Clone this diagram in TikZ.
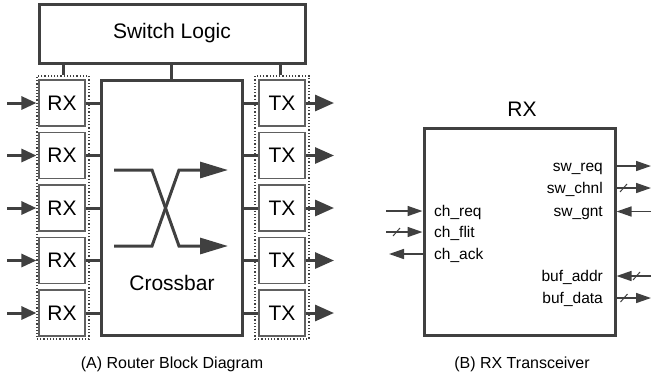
\documentclass[tikz,border=0pt]{standalone}
\usepackage{fontspec}
\setmainfont{Liberation Sans}
\usetikzlibrary{arrows.meta,positioning}

\definecolor{linec}{RGB}{64,64,64}
\definecolor{portc}{RGB}{96,96,96}

\tikzset{slash/.pic={\draw[line width=1pt,linec] (-3.5pt,-4pt) -- (3.5pt,4pt);}}

\begin{document}
\begin{tikzpicture}[
  x=1pt,y=-1pt,
  big/.style={font=\fontsize{21}{24}\selectfont},
  box/.style={draw=linec,line width=3pt,inner sep=0pt,big},
  port/.style={draw=portc,line width=1.5pt,minimum width=46pt,
    minimum height=46pt,inner sep=0pt,big},
  group/.style={draw=linec,dotted,line width=1.2pt,inner sep=0pt},
  bus/.style={draw=linec,line width=3pt},
  pin/.style={draw=linec,line width=1.5pt},
  in tip/.style={-{Triangle[length=15pt,width=13pt]}},
  out tip/.style={-{Triangle[length=19pt,width=16pt]}},
  x tip/.style={-{Triangle[length=28pt,width=16pt]}},
  pin tip/.style={-{Triangle[length=15pt,width=10pt]}},
  lab/.style={font=\fontsize{15.5}{18}\selectfont,inner sep=0pt},
  caption/.style={font=\fontsize{16}{19}\selectfont}]

  \useasboundingbox (0,0) rectangle (652,376);

  % (A) router
  \node[box,minimum width=266pt,minimum height=59pt] (sw) at (172,33.5)
    {Switch Logic};
  \node[box,minimum width=141pt,minimum height=255pt] (xbar) at (171.5,207.5) {};
  \node[big] (xlab) at (172,283) {Crossbar};

  \node[group,minimum width=52pt,minimum height=263pt] (grpL) at (63,207.5) {};
  \node[group,minimum width=54pt,minimum height=263pt] (grpR) at (282,207.5) {};

  \foreach \i in {1,...,5} {
    \pgfmathsetmacro{\yy}{103+52.5*(\i-1)}
    \node[port] (rx\i) at (62,\yy) {RX};
    \node[port] (tx\i) at (282,\yy) {TX};
    \coordinate (in\i) at (7,\yy);
    \coordinate (out\i) at (334,\yy);
    \draw[bus,in tip] (in\i) -- (grpL.west |- in\i);
    \draw[bus] (rx\i.east) -- (rx\i.east -| xbar.west);
    \draw[bus] (tx\i.west -| xbar.east) -- (tx\i.west);
    \draw[bus,out tip] (tx\i.east) -- (out\i);
  }

  % switch logic taps
  \draw[bus] (sw.south -| grpL.north) -- (grpL.north);
  \draw[bus] (sw.south -| xbar.north) -- (xbar.north);
  \draw[bus] (sw.south -| 280,0) -- (grpR.north -| 280,0);

  % crossing inside the crossbar
  \draw[bus,x tip] (114,170) -- (152,170) -- (179,246) -- (228,246);
  \draw[bus,x tip] (114,246) -- (152,246) -- (179,170) -- (228,170);

  \node[caption] (capA) at (172,364) {(A) Router Block Diagram};

  % (B) RX transceiver
  \node[box,minimum width=191pt,minimum height=207pt] (rxbig) at (519.5,231.5) {};
  \node[big] (rxtitle) at (522,109.5) {RX};

  \coordinate (swreq) at (651,166);
  \coordinate (swchnl) at (651,188);
  \coordinate (swgnt) at (651,211.5);
  \coordinate (bufaddr) at (651,276);
  \coordinate (bufdata) at (651,298);
  \coordinate (chreq) at (386,211);
  \coordinate (chflit) at (386,232);
  \coordinate (chack) at (389,254);

  \draw[pin,pin tip] (rxbig.east |- swreq) -- (swreq);
  \draw[pin,pin tip] (rxbig.east |- swchnl) -- (swchnl);
  \draw[pin,pin tip] (swgnt) -- (rxbig.east |- swgnt);
  \draw[pin,pin tip] (bufaddr) -- (rxbig.east |- bufaddr);
  \draw[pin,pin tip] (rxbig.east |- bufdata) -- (bufdata);
  \draw[pin,pin tip] (chreq) -- (rxbig.west |- chreq);
  \draw[pin,pin tip] (chflit) -- (rxbig.west |- chflit);
  \draw[pin,pin tip] (rxbig.west |- chack) -- (chack);

  \pic at (623.5,188) {slash};
  \pic at (636.5,276) {slash};
  \pic at (624,298) {slash};
  \pic at (396.5,232) {slash};

  \node[lab,anchor=base east] (lswreq) at (603,171) {sw\_req};
  \node[lab,anchor=base east] (lswchnl) at (603,193) {sw\_chnl};
  \node[lab,anchor=base east] (lswgnt) at (603,216.5) {sw\_gnt};
  \node[lab,anchor=base east] (lbufaddr) at (603,281) {buf\_addr};
  \node[lab,anchor=base east] (lbufdata) at (603,303) {buf\_data};
  \node[lab,anchor=base west] (lchreq) at (434,216) {ch\_req};
  \node[lab,anchor=base west] (lchflit) at (434,237) {ch\_flit};
  \node[lab,anchor=base west] (lchack) at (434,259) {ch\_ack};

  \node[caption] (capB) at (522,364) {(B) RX Transceiver};
\end{tikzpicture}
\end{document}
